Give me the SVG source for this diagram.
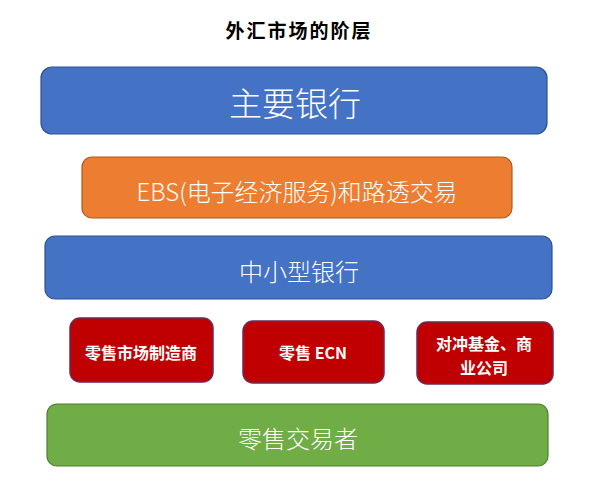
<svg xmlns="http://www.w3.org/2000/svg" width="603" height="485" viewBox="0 0 603 485">
<style>
.t{font-family:"Noto Sans CJK SC","Noto Sans",sans-serif;fill:#fff;text-anchor:middle;dominant-baseline:central}
.blue{fill:#4472C4;stroke:#2F528F;stroke-width:1.2}
.orange{fill:#ED7D31;stroke:#AE5A21;stroke-width:1.2}
.red{fill:#C00000;stroke:#6B2A55;stroke-width:1.5}
.green{fill:#70AD47;stroke:#507E32;stroke-width:1.2}
.big{font-size:24px;font-weight:300}
.sm{font-size:16px;font-weight:700}
</style>
<rect width="603" height="485" fill="#fff"/>
<text x="299" y="29" font-family="Noto Sans CJK SC,sans-serif" font-size="19" font-weight="700" letter-spacing="2" text-anchor="middle" dominant-baseline="central" fill="#000">外汇市场的阶层</text>
<g id="main-banks">
<rect class="blue" x="41" y="67" width="506" height="67" rx="11"/>
<text class="t" x="295" y="102" font-size="33" font-weight="300">主要银行</text>
</g>
<g id="ebs">
<rect class="orange" x="82" y="157" width="430" height="61" rx="10"/>
<text class="t big" x="297" y="190" textLength="321" lengthAdjust="spacingAndGlyphs">EBS(电子经济服务)和路透交易</text>
</g>
<g id="small-banks">
<rect class="blue" x="45" y="236" width="507" height="63" rx="10"/>
<text class="t big" x="299" y="270">中小型银行</text>
</g>
<g id="retail-mm">
<rect class="red" x="70" y="318" width="143" height="64" rx="10"/>
<text class="t sm" x="141" y="352">零售市场制造商</text>
</g>
<g id="retail-ecn">
<rect class="red" x="243" y="321" width="141" height="62" rx="10"/>
<text class="t sm" x="313" y="352">零售 ECN</text>
</g>
<g id="hedge">
<rect class="red" x="417" y="322" width="136" height="62" rx="10"/>
<text class="t sm" x="484" y="343">对冲基金、商</text>
<text class="t sm" x="484" y="367">业公司</text>
</g>
<g id="retail-traders">
<rect class="green" x="47" y="404" width="501" height="62" rx="10"/>
<text class="t big" x="298" y="437">零售交易者</text>
</g>
<g id="connectors"/>
</svg>
